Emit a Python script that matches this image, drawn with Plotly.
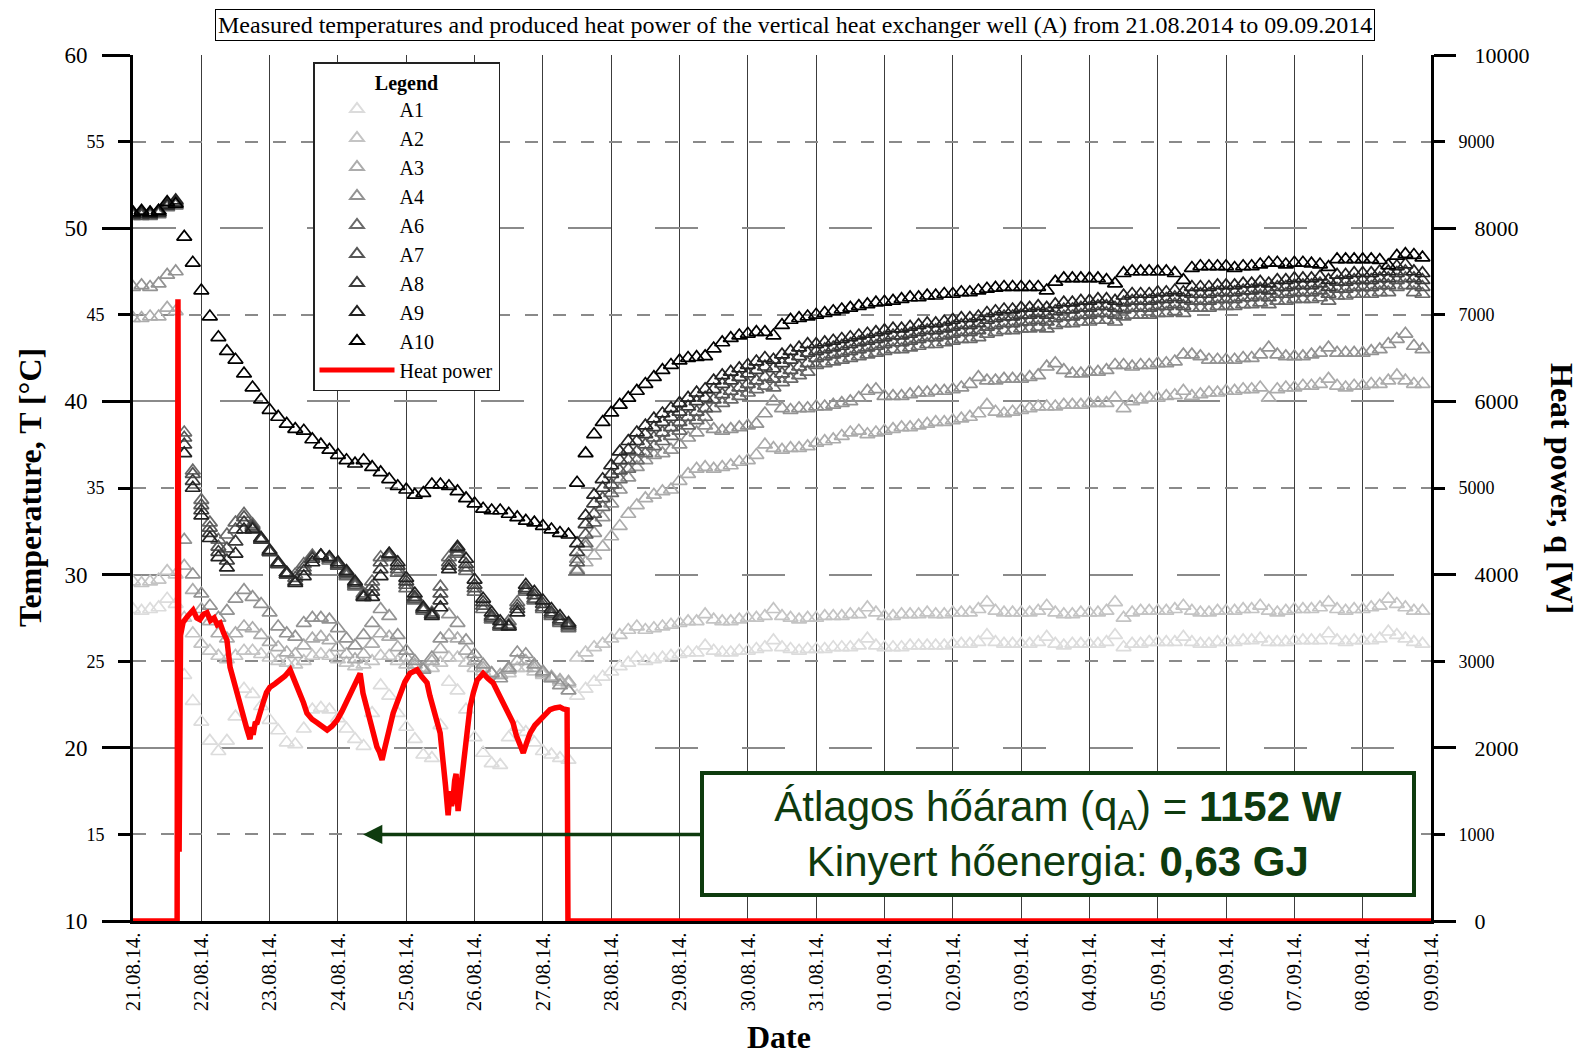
import pandas as pd
import plotly.graph_objects as go

# ---------------- data ----------------
start = pd.Timestamp("2014-08-21 00:00")
# sensor readings every 3 hours from 21.08.2014 00:00
times = pd.date_range(start, periods=152, freq="3h")
day_ticks = pd.date_range("2014-08-21", "2014-09-09", freq="D")

A1 = [28.0, 27.9, 28.0, 28.1, 28.6, 28.3,
      24.2, 22.7, 21.5, 20.4, 19.8, 20.4, 21.8, 23.4, 23.1, 22.4,
      21.6, 21.0, 20.3, 20.2, 21.1, 22.2, 22.3, 22.2, 21.7, 21.1,
      20.5, 20.1, 22.0, 23.6, 23.0, 22.0, 21.2, 20.5, 19.6, 19.4,
      21.3, 23.8, 23.3, 22.2, 20.6, 19.7, 19.1, 19.0, 20.6, 21.2,
      20.9, 20.3, 19.8, 19.6, 19.4, 19.3,
      23.0, 23.4, 23.8, 24.1, 24.4, 24.7, 24.9, 25.2, 25.0, 25.1,
      25.2, 25.3, 25.4, 25.5, 25.5, 25.9, 25.6, 25.5, 25.5, 25.6,
      25.6, 25.7, 25.8, 26.2, 25.8, 25.7, 25.6, 25.7, 25.7, 25.7,
      25.8, 25.8, 25.8, 25.9, 26.3, 25.9, 25.8, 25.8, 25.8, 25.9,
      25.9, 25.9, 25.9, 25.9, 26.0, 26.0, 26.0, 26.1, 26.5, 26.1,
      26.0, 26.0, 26.0, 26.0, 26.1, 26.4, 26.0, 25.9, 26.0, 26.0,
      26.0, 26.0, 26.1, 26.5, 25.8, 26.0, 26.0, 26.1, 26.1, 26.1,
      26.1, 26.4, 26.1, 26.0, 26.0, 26.1, 26.1, 26.1, 26.2, 26.2,
      26.3, 26.1, 26.1, 26.1, 26.2, 26.2, 26.2, 26.2, 26.6, 26.2,
      26.1, 26.2, 26.2, 26.2, 26.3, 26.7, 26.5, 26.3, 26.1, 26.0]

A2 = [29.6, 29.5, 29.6, 29.7, 30.2, 30.0,
      27.5, 26.6, 26.0, 25.6, 25.3, 25.1, 25.3, 25.6, 25.6, 25.4,
      25.2, 25.0, 24.9, 24.8, 25.0, 25.3, 25.4, 25.3, 25.1, 24.9,
      24.7, 24.8, 25.0, 25.3, 25.3, 25.0, 24.8, 24.6, 24.5, 24.6,
      24.9, 25.2, 25.2, 24.9, 24.6, 24.4, 24.3, 24.2, 24.3, 24.6,
      24.6, 24.4, 24.2, 24.0, 23.8, 23.7,
      25.2, 25.5, 25.8, 26.0, 26.3, 26.5, 26.8, 27.0, 26.8, 26.9,
      27.0, 27.1, 27.2, 27.3, 27.3, 27.7, 27.4, 27.3, 27.3, 27.4,
      27.5, 27.5, 27.6, 28.0, 27.6, 27.5, 27.4, 27.5, 27.5, 27.6,
      27.6, 27.6, 27.7, 27.7, 28.1, 27.8, 27.6, 27.6, 27.7, 27.7,
      27.7, 27.8, 27.7, 27.7, 27.8, 27.8, 27.8, 28.0, 28.4, 27.9,
      27.8, 27.8, 27.8, 27.8, 27.9, 28.2, 27.8, 27.7, 27.7, 27.8,
      27.8, 27.8, 27.9, 28.4, 27.5, 27.8, 27.9, 27.9, 27.9, 27.9,
      28.0, 28.2, 27.9, 27.8, 27.8, 27.9, 27.9, 27.9, 28.0, 28.0,
      28.2, 27.9, 27.8, 27.9, 28.0, 28.0, 28.0, 28.1, 28.4, 28.0,
      27.9, 28.0, 28.0, 28.1, 28.2, 28.6, 28.3, 28.1, 27.9, 27.9]

A3 = [44.8, 44.8, 44.9, 44.9, 45.4, 45.2,
      30.5, 29.1, 28.0, 27.3, 26.6, 26.3, 26.6, 27.0, 26.9, 26.5,
      26.1, 25.8, 25.5, 25.4, 25.9, 26.3, 26.4, 26.2, 25.8, 25.4,
      25.1, 25.4, 26.0, 26.6, 26.4, 25.8, 25.2, 24.8, 24.6, 25.0,
      25.7, 26.5, 26.3, 25.6, 25.0, 24.6, 24.3, 24.2, 24.5, 25.0,
      25.0, 24.6, 24.3, 24.1, 23.9, 23.8,
      30.3, 30.7, 31.1, 31.6, 32.2, 32.8, 33.5, 34.0, 34.4, 34.6,
      34.8, 34.9, 35.4, 35.8, 36.1, 36.2, 36.1, 36.2, 36.3, 36.5,
      36.6, 36.9, 37.5, 37.3, 37.2, 37.3, 37.3, 37.4, 37.6, 37.7,
      37.8, 38.0, 38.2, 38.3, 38.1, 38.2, 38.3, 38.4, 38.5, 38.5,
      38.6, 38.7, 38.8, 38.8, 38.9, 39.0, 39.1, 39.3, 39.8, 39.4,
      39.3, 39.4, 39.5, 39.6, 39.7, 39.7, 39.7, 39.8, 39.8, 39.8,
      39.9, 39.9, 39.9, 40.2, 39.6, 40.0, 40.1, 40.2, 40.2, 40.3,
      40.35, 40.6, 40.3, 40.4, 40.5, 40.5, 40.6, 40.6, 40.7, 40.7,
      40.8, 40.2, 40.7, 40.8, 40.8, 40.9, 40.9, 41.0, 41.3, 40.9,
      40.8, 40.9, 40.9, 41.0, 41.0, 41.2, 41.5, 41.2, 41.0, 41.0]

A4 = [46.6, 46.7, 46.6, 46.8, 47.3, 47.5,
      32.0, 30.0, 28.9, 28.2, 27.5, 27.9, 28.6, 29.1, 28.7, 28.3,
      27.8, 27.0, 26.6, 26.4, 27.2, 27.5, 27.5, 27.4, 26.9, 26.3,
      25.9, 26.5, 27.2, 28.0, 27.6, 26.5, 25.6, 25.0, 24.5, 25.2,
      26.3, 27.7, 27.2, 26.2, 25.4, 24.8, 24.3, 24.0, 24.6, 25.5,
      25.4, 24.8, 24.4, 24.0, 23.6, 23.3,
      30.9, 31.6, 32.4, 33.3, 34.1, 34.9, 35.6, 36.2, 36.6, 36.9,
      37.0, 37.2, 37.5, 37.9, 38.2, 38.6, 38.4, 38.3, 38.4, 38.5,
      38.6, 38.7, 39.3, 40.0, 39.6, 39.5, 39.6, 39.6, 39.7, 39.7,
      39.8, 39.9, 40.0, 40.2, 40.6, 40.7, 40.3, 40.3, 40.3, 40.4,
      40.5, 40.5, 40.6, 40.6, 40.7, 40.8, 41.0, 41.4, 41.2, 41.2,
      41.3, 41.3, 41.3, 41.4, 41.5, 42.0, 42.2, 41.8, 41.6, 41.6,
      41.7, 41.7, 41.8, 42.1, 42.1, 42.0, 42.1, 42.1, 42.2, 42.2,
      42.3, 42.7, 42.7, 42.6, 42.4, 42.4, 42.4, 42.4, 42.5, 42.5,
      42.7, 43.1, 42.7, 42.6, 42.6, 42.6, 42.7, 42.8, 43.1, 42.8,
      42.8, 42.8, 42.8, 42.9, 43.0, 43.3, 43.6, 43.9, 43.2, 43.0]

A6 = [50.7, 50.8, 50.7, 50.8, 51.2, 51.3,
      38.2, 36.0, 34.3, 33.0, 32.0, 32.3, 33.0, 33.5, 32.9, 32.1,
      31.3, 30.6, 30.1, 30.0, 30.6, 31.1, 31.1, 30.8, 30.5, 29.9,
      29.3, 28.9, 29.6, 31.0, 31.0, 30.1, 29.2, 28.5, 27.9, 27.8,
      29.3, 31.0, 31.2, 30.2, 29.0, 28.0, 27.4, 27.0, 27.3, 28.4,
      29.0, 28.5, 28.0, 27.6, 27.2, 26.9,
      30.2, 31.8, 33.0, 33.9, 34.7, 35.5, 36.1, 36.6, 37.0, 37.4,
      37.7, 38.0, 38.3, 38.6, 38.9, 39.1, 39.6, 39.9, 40.1, 40.3,
      40.5, 40.7, 40.9, 40.8, 41.1, 41.3, 41.5, 41.7, 42.1, 42.2,
      42.3, 42.4, 42.5, 42.6, 42.7, 42.8, 42.9, 43.0, 43.0, 43.1,
      43.2, 43.3, 43.3, 43.4, 43.5, 43.6, 43.6, 43.7, 43.9, 44.0,
      44.1, 44.1, 44.2, 44.2, 44.3, 44.2, 44.4, 44.5, 44.5, 44.6,
      44.6, 44.7, 44.7, 44.6, 44.9, 45.0, 45.0, 45.0, 45.1, 45.1,
      45.2, 45.1, 45.4, 45.4, 45.4, 45.5, 45.5, 45.5, 45.6, 45.6,
      45.7, 45.6, 45.8, 45.8, 45.9, 45.9, 45.9, 46.0, 45.8, 46.1,
      46.1, 46.2, 46.2, 46.2, 46.3, 46.3, 46.6, 46.7, 46.3, 46.2]

A7 = [50.8, 50.7, 50.8, 50.9, 51.3, 51.4,
      37.9, 35.8, 34.0, 32.7, 31.6, 31.5, 32.6, 33.3, 32.8, 32.0,
      31.3, 30.6, 30.0, 29.8, 30.4, 31.0, 31.1, 30.9, 30.5, 30.0,
      29.4, 28.8, 29.3, 30.7, 31.1, 30.3, 29.4, 28.6, 28.0, 27.7,
      28.9, 30.7, 31.3, 30.4, 29.2, 28.2, 27.5, 27.0, 27.1, 28.2,
      29.1, 28.6, 28.1, 27.7, 27.3, 27.0,
      30.7, 32.3, 33.5, 34.4, 35.2, 36.0, 36.6, 37.1, 37.5, 37.9,
      38.2, 38.5, 38.8, 39.1, 39.4, 39.6, 40.1, 40.4, 40.6, 40.8,
      41.0, 41.2, 41.4, 41.3, 41.6, 41.8, 42.0, 42.2, 42.5, 42.6,
      42.7, 42.8, 42.9, 43.0, 43.1, 43.2, 43.3, 43.4, 43.4, 43.5,
      43.6, 43.7, 43.7, 43.8, 43.9, 44.0, 44.0, 44.1, 44.3, 44.4,
      44.5, 44.5, 44.6, 44.6, 44.7, 44.6, 44.8, 44.9, 44.9, 45.0,
      45.0, 45.1, 45.1, 45.0, 45.3, 45.4, 45.4, 45.4, 45.5, 45.5,
      45.6, 45.5, 45.8, 45.8, 45.8, 45.9, 45.9, 45.9, 46.0, 46.0,
      46.1, 46.0, 46.2, 46.2, 46.3, 46.3, 46.3, 46.4, 46.2, 46.5,
      46.5, 46.6, 46.6, 46.6, 46.7, 46.7, 47.0, 47.1, 46.7, 46.6]

A8 = [50.9, 50.8, 50.9, 51.0, 51.4, 51.5,
      37.5, 35.4, 33.7, 32.4, 31.3, 30.8, 31.9, 33.0, 32.7, 32.0,
      31.3, 30.6, 30.0, 29.6, 30.2, 30.9, 31.1, 31.0, 30.6, 30.1,
      29.5, 28.7, 29.0, 30.3, 31.2, 30.5, 29.6, 28.7, 28.0, 27.7,
      28.5, 30.5, 31.5, 30.6, 29.4, 28.4, 27.6, 27.1, 27.0, 28.0,
      29.2, 28.8, 28.3, 27.8, 27.4, 27.1,
      31.3, 32.9, 34.1, 35.0, 35.8, 36.6, 37.2, 37.7, 38.1, 38.5,
      38.8, 39.1, 39.4, 39.7, 40.0, 40.2, 40.7, 41.0, 41.2, 41.4,
      41.6, 41.8, 42.0, 41.9, 42.2, 42.4, 42.6, 42.8, 42.9, 43.0,
      43.1, 43.2, 43.3, 43.4, 43.5, 43.6, 43.7, 43.8, 43.8, 43.9,
      44.0, 44.1, 44.1, 44.2, 44.3, 44.4, 44.4, 44.5, 44.7, 44.8,
      44.9, 44.9, 45.0, 45.0, 45.1, 45.0, 45.2, 45.3, 45.3, 45.4,
      45.4, 45.5, 45.5, 45.4, 45.7, 45.8, 45.8, 45.8, 45.9, 45.9,
      46.0, 45.9, 46.2, 46.2, 46.2, 46.3, 46.3, 46.3, 46.4, 46.4,
      46.5, 46.4, 46.6, 46.6, 46.7, 46.7, 46.7, 46.8, 46.6, 46.9,
      46.9, 47.0, 47.0, 47.0, 47.1, 47.1, 47.4, 47.5, 47.1, 47.0]

A9 = [50.8, 50.9, 50.8, 50.9, 51.3, 51.6,
      37.0, 35.0, 33.4, 32.1, 31.0, 30.4, 31.2, 32.6, 32.6, 32.1,
      31.4, 30.7, 30.1, 29.5, 29.9, 30.7, 31.1, 31.0, 30.7, 30.2,
      29.6, 28.7, 28.7, 29.9, 31.2, 30.7, 29.8, 28.9, 28.1, 27.6,
      28.1, 30.3, 31.6, 30.9, 29.7, 28.6, 27.8, 27.3, 27.0, 27.8,
      29.4, 29.0, 28.5, 28.0, 27.6, 27.2,
      31.8, 33.4, 34.6, 35.5, 36.3, 37.1, 37.7, 38.2, 38.6, 39.0,
      39.3, 39.6, 39.9, 40.2, 40.5, 40.7, 41.2, 41.5, 41.7, 41.9,
      42.1, 42.3, 42.5, 42.4, 42.7, 42.9, 43.1, 43.3, 43.3, 43.4,
      43.5, 43.6, 43.7, 43.8, 43.9, 44.0, 44.1, 44.2, 44.2, 44.3,
      44.4, 44.5, 44.5, 44.6, 44.7, 44.8, 44.8, 44.9, 45.1, 45.2,
      45.3, 45.3, 45.4, 45.4, 45.5, 45.4, 45.6, 45.7, 45.7, 45.8,
      45.8, 45.9, 45.9, 45.8, 46.1, 46.2, 46.2, 46.2, 46.3, 46.3,
      46.4, 46.3, 46.6, 46.6, 46.6, 46.7, 46.7, 46.7, 46.8, 46.8,
      46.9, 46.8, 47.0, 47.0, 47.1, 47.1, 47.1, 47.2, 47.0, 47.3,
      47.3, 47.4, 47.4, 47.4, 47.5, 47.5, 47.8, 47.9, 47.5, 47.4]

A10 = [50.9, 51.0, 50.9, 51.0, 51.5, 51.4,
       49.5, 48.0, 46.4, 44.9, 43.7, 42.9, 42.4, 41.6, 40.8, 40.1,
       39.5, 39.1, 38.7, 38.4, 38.3, 37.8, 37.5, 37.2, 36.9, 36.6,
       36.4, 36.6, 36.2, 35.9, 35.5, 35.1, 34.9, 34.6, 34.7, 35.2,
       35.2, 35.1, 34.8, 34.4, 34.1, 33.8, 33.7, 33.7, 33.5, 33.3,
       33.1, 33.0, 32.8, 32.6, 32.4, 32.3,
       35.3, 37.0, 38.1, 38.8, 39.35, 39.8, 40.2, 40.6, 41.0, 41.4,
       41.8, 42.1, 42.35, 42.5, 42.55, 42.6, 43.05, 43.4, 43.65, 43.8,
       43.9, 44.0, 44.0, 43.8, 44.4, 44.7, 44.8, 44.9, 45.0, 45.1,
       45.2, 45.3, 45.4, 45.5, 45.6, 45.7, 45.75, 45.8, 45.9, 46.0,
       46.0, 46.1, 46.1, 46.2, 46.2, 46.3, 46.3, 46.4, 46.5, 46.55,
       46.6, 46.6, 46.6, 46.6, 46.6, 46.4, 46.9, 47.1, 47.1, 47.1,
       47.1, 47.1, 47.0, 46.8, 47.4, 47.5, 47.5, 47.5, 47.5, 47.5,
       47.4, 47.0, 47.7, 47.8, 47.8, 47.8, 47.8, 47.7, 47.8, 47.8,
       47.9, 48.0, 48.0, 47.9, 48.0, 48.0, 47.95, 47.9, 47.75, 48.2,
       48.2, 48.2, 48.2, 48.2, 48.15, 47.85, 48.4, 48.5, 48.45, 48.3]

# heat power: hours since 21.08.2014 00:00 and power in W
hp_hours = [0, 15.5, 15.8, 16.2, 16.7, 17.6, 19.2, 21.1, 22.4, 23.5, 24.7, 26.0,
            27.2, 28.5, 29.6, 30.6, 31.8, 33.0, 34.1, 35.3, 36.5, 37.6, 38.7,
            39.9, 41.1, 41.7, 42.2, 42.9, 43.6, 44.6, 45.7, 46.9, 48.1, 49.9,
            51.7, 53.4, 55.2, 56.9, 58.7, 59.9, 61.1, 62.9, 64.7, 66.4, 68.2,
            69.9, 71.7, 73.4, 75.2, 76.9, 78.7, 79.8, 80.8, 82.0, 83.3, 84.5,
            85.7, 86.6, 87.5, 88.4, 89.3, 90.3, 91.4, 92.6, 93.8, 95.5, 97.3,
            98.5, 99.8, 101.5, 103.3, 104.3, 105.4, 106.6, 107.9, 108.4, 108.9,
            109.8, 110.7, 111.4, 111.9, 112.4, 113.0, 113.5, 114.2, 115.1, 116.0,
            117.0, 117.7, 118.4, 119.6, 120.9, 122.0, 123.0, 124.7, 126.5, 128.2,
            130.0, 131.7, 133.5, 134.7, 136.0, 137.1, 138.3, 139.5, 141.2, 143.0,
            144.7, 146.5, 148.2, 150.0, 151.2, 152.5, 152.8, 456.0]
hp_watts = [0, 0, 7180, 800, 3300, 3450, 3520, 3590, 3500, 3480, 3540, 3560,
            3470, 3500, 3420, 3440, 3330, 3245, 2930, 2780, 2630, 2460, 2320,
            2230, 2100, 2240, 2150, 2280, 2290, 2430, 2520, 2640, 2700, 2740,
            2780, 2830, 2900, 2770, 2630, 2520, 2400, 2330, 2290, 2240, 2205,
            2250, 2320, 2420, 2550, 2680, 2780, 2860, 2630, 2470, 2290, 2130,
            2010, 1950, 1860, 1990, 2090, 2250, 2400, 2520, 2630, 2760, 2860,
            2880, 2900, 2820, 2750, 2600, 2470, 2310, 2170, 2010, 1890,
            1560, 1220, 1500, 1330, 1400, 1620, 1700, 1270, 1540, 1800,
            2090, 2290, 2470, 2640, 2780, 2820, 2860, 2800, 2750, 2640,
            2520, 2400, 2290, 2140, 2010, 1940, 2060, 2170, 2260, 2320,
            2390, 2440, 2460, 2470, 2450, 2440, 0, 0]
hp_times = [start + pd.Timedelta(hours=h) for h in hp_hours]

series_names = ["A1", "A2", "A3", "A4", "A6", "A7", "A8", "A9", "A10"]
series_values = [A1, A2, A3, A4, A6, A7, A8, A9, A10]
series_colors = ["#dcdcdc", "#c4c4c4", "#acacac", "#939393", "#6a6a6a",
                 "#555555", "#3c3c3c", "#222222", "#000000"]

temp_major = [10, 20, 30, 40, 50, 60]
temp_minor = [15, 25, 35, 45, 55]
power_major = [0, 2000, 4000, 6000, 8000, 10000]
power_minor = [1000, 3000, 5000, 7000, 9000]

# ---------------- figure ----------------
SERIF = "Liberation Serif, Times New Roman, serif"
NARROW = "Liberation Sans Narrow, Arial Narrow, Liberation Sans, Arial, sans-serif"
GREEN = "#0e3b0e"

fig = go.Figure()
for name, vals, col in zip(series_names, series_values, series_colors):
    fig.add_trace(go.Scatter(
        x=times, y=vals, mode="markers", name=name,
        marker=dict(symbol="triangle-up-open", size=13, color=col,
                    line=dict(width=1.7, color=col))))

fig.add_trace(go.Scatter(x=hp_times, y=hp_watts, mode="lines", name="Heat power",
                         line=dict(color="#ff0000", width=5.5), yaxis="y2"))
# helper (empty) traces so the extra tick axes are rendered
fig.add_trace(go.Scatter(x=[], y=[], yaxis="y3", showlegend=False, hoverinfo="skip"))
fig.add_trace(go.Scatter(x=[], y=[], yaxis="y4", showlegend=False, hoverinfo="skip"))

PW, PL, PT, PH = 1298, 133, 55, 866

def px_x(px):
    return (px - PL) / PW

def px_y(py):
    return (PT + PH - py) / PH

fig.update_layout(
    width=1580, height=1058,
    margin=dict(l=PL, r=1580 - PL - PW, t=PT, b=1058 - PT - PH, autoexpand=False),
    paper_bgcolor="white", plot_bgcolor="white",
    font=dict(family=SERIF, color="black"),
    showlegend=True,
    xaxis=dict(type="date", range=[day_ticks[0], day_ticks[-1]],
               tickvals=list(day_ticks), tickformat="%d.%m.%y.", tickangle=-90,
               tickfont=dict(family=SERIF, size=21, color="black"),
               showgrid=True, gridcolor="#3c3c3c", gridwidth=1,
               showline=True, linecolor="black", linewidth=3,
               ticks="", zeroline=False),
    yaxis=dict(range=[10, 60], tickvals=temp_major, ticks="outside", ticklen=28,
               tickwidth=3, tickcolor="black", ticklabelstandoff=10,
               tickfont=dict(family=SERIF, size=23, color="black"),
               showline=True, linecolor="black", linewidth=3,
               showgrid=True, gridcolor="#8a8a8a", gridwidth=1.5, griddash="43px,44px",
               zeroline=False),
    yaxis3=dict(range=[10, 60], overlaying="y", side="left", anchor="x",
                tickvals=temp_minor, ticks="outside", ticklen=14, tickwidth=3,
                tickcolor="black", ticklabelstandoff=10,
                tickfont=dict(family=SERIF, size=18, color="black"),
                showline=False, showgrid=True, gridcolor="#8a8a8a", gridwidth=1.5,
                griddash="13px,15px", zeroline=False),
    yaxis2=dict(range=[0, 10000], overlaying="y", side="right", anchor="x",
                tickvals=power_major, tickformat="d", ticks="outside", ticklen=22,
                tickwidth=3, tickcolor="black", ticklabelstandoff=14,
                tickfont=dict(family=SERIF, size=22, color="black"),
                showline=True, linecolor="black", linewidth=3,
                showgrid=False, zeroline=False),
    yaxis4=dict(range=[0, 10000], overlaying="y", side="right", anchor="x",
                tickvals=power_minor, tickformat="d", ticks="outside", ticklen=13,
                tickwidth=3, tickcolor="black", ticklabelstandoff=10,
                tickfont=dict(family=SERIF, size=18, color="black"),
                showline=False, showgrid=False, zeroline=False),
    legend=dict(x=px_x(313), y=px_y(62), xanchor="left", yanchor="top",
                bgcolor="white", bordercolor="#222222", borderwidth=1.5,
                font=dict(family=SERIF, size=20, color="black"),
                title=dict(text="<b>Legend</b>", side="top center",
                           font=dict(family=SERIF, size=20, color="black")),
                itemsizing="constant", itemwidth=75, tracegroupgap=0),
    annotations=[
        dict(text="Measured temperatures and produced heat power of the vertical heat "
                  "exchanger well (A) from 21.08.2014 to 09.09.2014",
             xref="paper", yref="paper", x=px_x(795), y=px_y(25),
             xanchor="center", yanchor="middle", showarrow=False,
             bordercolor="black", borderwidth=1, borderpad=2, bgcolor="white",
             font=dict(family=SERIF, size=24, color="black")),
        dict(text="Temperature, T [°C]", xref="paper", yref="paper",
             x=px_x(30), y=0.5, textangle=-90, showarrow=False,
             xanchor="center", yanchor="middle",
             font=dict(family=SERIF, size=32, color="black", weight="bold")),
        dict(text="Heat power, q [W]", xref="paper", yref="paper",
             x=px_x(1562), y=0.5, textangle=90, showarrow=False,
             xanchor="center", yanchor="middle",
             font=dict(family=SERIF, size=32, color="black", weight="bold")),
        dict(text="Date", xref="paper", yref="paper",
             x=px_x(779), y=px_y(1057), showarrow=False,
             xanchor="center", yanchor="bottom",
             font=dict(family=SERIF, size=32, color="black", weight="bold")),
        dict(text="Átlagos hőáram (q<sub>A</sub>) = <b>1152 W</b><br>"
                  "Kinyert hőenergia: <b>0,63 GJ</b>",
             xref="x", yref="y", x="2014-08-24 08:50:00", y=15,
             showarrow=True, arrowhead=2, arrowsize=1.1, arrowwidth=3.5,
             arrowcolor=GREEN, ax=695, ay=0, axref="pixel", ayref="pixel",
             font=dict(family=NARROW, size=42, color=GREEN),
             bordercolor=GREEN, borderwidth=4, borderpad=3, bgcolor="white",
             width=702, height=112, align="center", valign="middle"),
    ],
)

fig.write_html("out.html")
